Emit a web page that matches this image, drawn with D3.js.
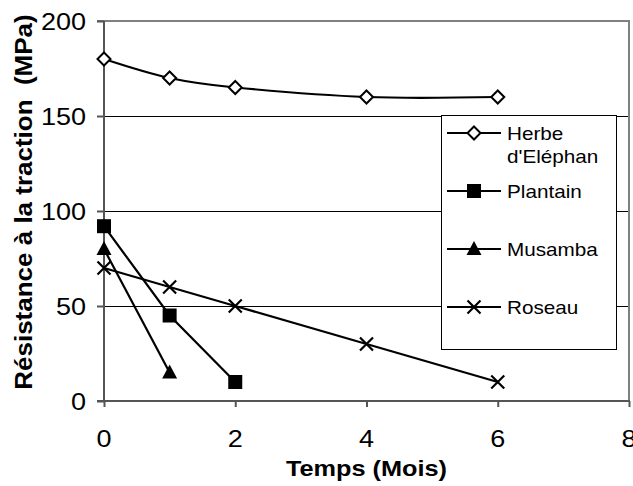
<!DOCTYPE html>
<html><head><meta charset="utf-8">
<script src="https://cdn.jsdelivr.net/npm/d3@7"></script>
<style>
html,body{margin:0;padding:0;background:#fff;}
svg{display:block;font-family:Arial,"Liberation Sans",sans-serif;}
</style></head>
<body>
<svg id="chart" width="633" height="486"></svg>
<script>
const months = [0, 1, 2, 4, 6];
const herbe = [[0,180],[1,170],[2,165],[4,160],[6,160]];
const plantain = [[0,92],[1,45],[2,10]];
const musamba = [[0,80],[1,15]];
const roseau = [[0,70],[1,60],[2,50],[4,30],[6,10]];
const seriesNames = ["Herbe d'Eléphan","Plantain","Musamba","Roseau"];
const xTicks = [0,2,4,6,8];
const yTicks = [0,50,100,150,200];
const xTitle = "Temps (Mois)";
const yTitle = "Résistance à la traction  (MPa)";

const svg = d3.select("#chart");
const L=104, R=629, T=21, B=401;
const x = d3.scaleLinear().domain([0,8]).range([L,R]);
const y = d3.scaleLinear().domain([0,200]).range([B,T]);
const SX = 1.15;

// gridlines
yTicks.filter(v=>v>0 && v<200).forEach(v=>{
  const yy = Math.round(y(v))+0.5;
  svg.append("line").attr("x1",L-7).attr("x2",R).attr("y1",yy).attr("y2",yy)
    .attr("stroke","#000").attr("stroke-width",1);
});
// top border (200) & right border
svg.append("line").attr("x1",L-7).attr("x2",R+1).attr("y1",y(200)).attr("y2",y(200)).attr("stroke","#808080").attr("stroke-width",2);
svg.append("line").attr("x1",R).attr("x2",R).attr("y1",T).attr("y2",B).attr("stroke","#808080").attr("stroke-width",2);

// axes
const yAxis = d3.axisLeft(y).tickValues(yTicks).tickSize(7).tickFormat("");
const gy = svg.append("g").attr("transform",`translate(${L},0)`).call(yAxis);
gy.selectAll("path,line").attr("stroke","#555").attr("stroke-width",2);
gy.select("path").attr("d",`M0,${T}V${B}`);
const xAxis = d3.axisBottom(x).tickValues(xTicks).tickSize(6).tickFormat("");
const gx = svg.append("g").attr("transform",`translate(0,${B})`).call(xAxis);
gx.selectAll("path,line").attr("stroke","#555").attr("stroke-width",2);
gx.select("path").attr("d",`M${L-7},0H${R+1}`);

// tick labels
yTicks.forEach(v=>{
  svg.append("text").attr("transform",`translate(86,${y(v)+8.5}) scale(${SX},1)`)
    .attr("text-anchor","end").attr("font-size",23.5).text(v);
});
xTicks.forEach(v=>{
  svg.append("text").attr("transform",`translate(${x(v)},447) scale(${SX},1)`)
    .attr("text-anchor","middle").attr("font-size",23.5).text(v);
});
// titles
svg.append("text").attr("transform",`translate(${(L+R)/2},476) scale(${SX},1)`)
  .attr("text-anchor","middle").attr("font-size",22).attr("font-weight","bold").text(xTitle);
svg.append("text").attr("transform",`translate(32,202) rotate(-90) scale(1.13,1.05)`)
  .attr("text-anchor","middle").attr("font-size",23).attr("font-weight","bold")
  .attr("xml:space","preserve").style("white-space","pre").text(yTitle);

// lines
const lineStraight = d3.line().x(d=>x(d[0])).y(d=>y(d[1]));
const lineSmooth = d3.line().x(d=>x(d[0])).y(d=>y(d[1])).curve(d3.curveCardinal.tension(0));
const data = [herbe, plantain, musamba, roseau];
const gens = [lineSmooth, lineStraight, lineStraight, lineStraight];
data.forEach((s,i)=>{
  svg.append("path").attr("d",gens[i](s)).attr("fill","none").attr("stroke","#000").attr("stroke-width",2.2);
});

// markers
function marker(g, type, cx, cy){
  if(type===0){
    g.append("path").attr("d",`M${cx},${cy-6.5}L${cx+6.5},${cy}L${cx},${cy+6.5}L${cx-6.5},${cy}Z`)
      .attr("fill","#fff").attr("stroke","#000").attr("stroke-width",2);
  } else if(type===1){
    g.append("rect").attr("x",cx-7).attr("y",cy-7).attr("width",14).attr("height",14).attr("fill","#000");
  } else if(type===2){
    g.append("path").attr("d",`M${cx},${cy-8}L${cx+7.5},${cy+6}L${cx-7.5},${cy+6}Z`).attr("fill","#000");
  } else {
    g.append("path").attr("d",`M${cx-6.5},${cy-6.5}L${cx+6.5},${cy+6.5}M${cx+6.5},${cy-6.5}L${cx-6.5},${cy+6.5}`)
      .attr("stroke","#000").attr("stroke-width",2.2);
  }
}
const mg = svg.append("g");
data.forEach((s,i)=>s.forEach(d=>marker(mg,i,x(d[0]),y(d[1]))));

// legend
const lg = svg.append("g");
lg.append("rect").attr("x",441.5).attr("y",115.5).attr("width",175).attr("height",234)
  .attr("fill","#fff").attr("stroke","#000").attr("stroke-width",1);
const legY = [133,191,249,307];
seriesNames.forEach((n,i)=>{
  lg.append("line").attr("x1",447).attr("x2",501).attr("y1",legY[i]).attr("y2",legY[i]).attr("stroke","#000").attr("stroke-width",2.2);
  marker(lg,i,474,legY[i]);
  if(i===0){
    lg.append("text").attr("transform",`translate(507,${legY[i]+6.5}) scale(${SX},1)`).attr("font-size",18).text("Herbe");
    lg.append("text").attr("transform",`translate(507,${legY[i]+30}) scale(${SX},1)`).attr("font-size",18).text("d'Eléphan");
  } else {
    lg.append("text").attr("transform",`translate(507,${legY[i]+6.5}) scale(${SX},1)`).attr("font-size",18).text(n);
  }
});
</script>
</body></html>
